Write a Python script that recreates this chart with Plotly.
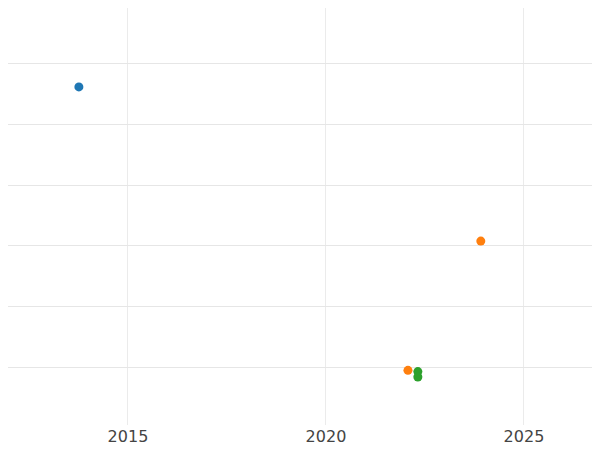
import plotly.graph_objects as go

# series values
blue_x = [2013.76]
blue_y = [4.62]
orange_x = [2023.91, 2022.07]
orange_y = [2.08, -0.05]
green_x = [2022.32, 2022.32]
green_y = [-0.07, -0.16]

fig = go.Figure()
for xs, ys, color in [(blue_x, blue_y, '#1f77b4'),
                      (orange_x, orange_y, '#ff7f0e'),
                      (green_x, green_y, '#2ca02c')]:
    fig.add_trace(go.Scatter(x=xs, y=ys, mode='markers',
                             marker=dict(color=color, size=9), showlegend=False))

# page body has an 8px margin, so the figure is a bit smaller than the window
fig.update_layout(
    width=592, height=442,
    template='plotly_white',
    margin=dict(l=0, r=0, t=0, b=25),
    font=dict(family='DejaVu Sans', size=16, color='#444'),
)
fig.update_xaxes(range=[2011.97, 2026.92], dtick=5, gridcolor='#ebebeb',
                 zeroline=False)
fig.update_yaxes(range=[-0.95, 5.92], dtick=1, gridcolor='#e6e6e6',
                 showticklabels=False, zeroline=False)

fig.write_html("out.html")
